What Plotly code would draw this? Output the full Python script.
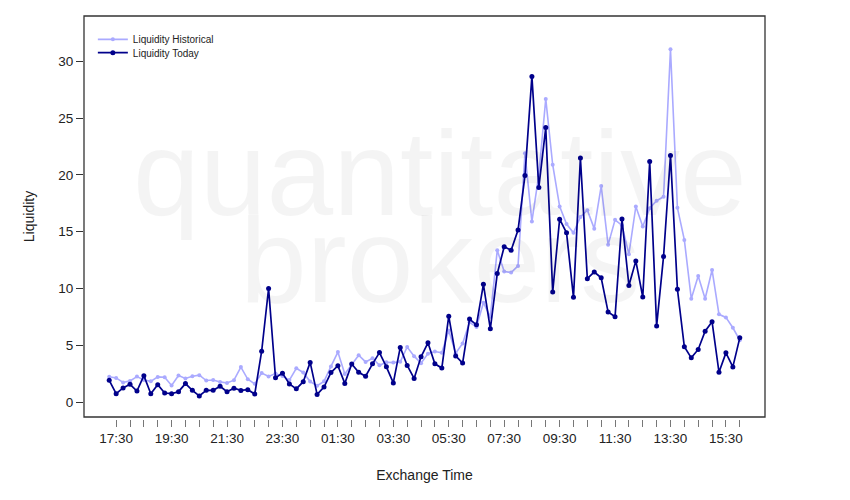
import pandas as pd
import plotly.graph_objects as go

# ---- data (15-minute buckets, 17:15 -> 16:00 next day) ----
start_time = "2013-06-10 17:15"
n_points = 92
times = pd.date_range(start_time, periods=n_points, freq="15min")

liquidity_historical = [
    2.22, 2.12, 1.72, 1.86, 2.24, 1.94, 1.82, 2.21, 2.18, 1.45,
    2.33, 2.08, 2.27, 2.36, 1.89, 1.94, 1.77, 1.68, 1.92, 3.08,
    2.00, 1.60, 2.55, 2.25, 2.50, 2.28, 1.93, 2.97, 2.60, 1.80,
    1.43, 1.82, 3.13, 4.40, 2.47, 3.35, 4.12, 3.53, 3.86, 3.24,
    3.50, 3.47, 3.54, 4.85, 4.04, 3.42, 4.26, 4.45, 4.34, 6.30,
    4.30, 5.16, 7.02, 6.60, 8.75, 7.50, 13.37, 11.49, 11.40, 11.99,
    21.90, 15.90, 20.00, 26.70, 20.90, 17.23, 15.67, 14.90, 16.30, 16.90,
    15.27, 19.02, 13.84, 16.05, 15.56, 13.02, 17.22, 15.46, 17.07, 17.73,
    18.08, 31.07, 17.10, 14.28, 9.10, 11.10, 9.10, 11.63, 7.72, 7.45,
    6.54, 5.45,
]

liquidity_today = [
    1.91, 0.73, 1.24, 1.56, 0.97, 2.32, 0.73, 1.53, 0.79, 0.73,
    0.91, 1.62, 1.03, 0.53, 1.03, 1.03, 1.38, 0.90, 1.21, 1.02,
    1.08, 0.70, 4.47, 10.00, 2.13, 2.54, 1.59, 1.16, 1.79, 3.49,
    0.67, 1.32, 2.59, 3.20, 1.64, 3.35, 2.62, 2.27, 3.36, 4.35,
    3.10, 1.68, 4.81, 3.22, 2.08, 3.98, 5.21, 3.36, 2.99, 7.56,
    4.06, 3.43, 7.30, 6.80, 10.37, 6.45, 11.31, 13.67, 13.37, 15.14,
    19.94, 28.68, 18.90, 24.17, 9.69, 16.10, 14.90, 9.22, 21.49, 10.86,
    11.45, 10.94, 7.92, 7.51, 16.11, 10.26, 12.43, 9.25, 21.19, 6.70,
    12.82, 21.72, 9.93, 4.86, 3.89, 4.63, 6.24, 7.07, 2.62, 4.33,
    3.09, 5.65,
]

tick_times = pd.date_range("2013-06-10 17:30", "2013-06-11 16:00", freq="30min")
tick_labels = [t.strftime("%H:%M") if i % 4 == 0 else "" for i, t in enumerate(tick_times)]
y_ticks = [0, 5, 10, 15, 20, 25, 30]

# ---- figure ----
span = times[-1] - times[0]
x_range = [times[0] - 0.04 * span, times[-1] + 0.04 * span]

font_family = "Liberation Sans, Arial, sans-serif"

fig = go.Figure()
fig.add_trace(go.Scatter(
    x=times, y=liquidity_historical, mode="lines+markers",
    name="Liquidity Historical", legend="legend",
    line=dict(color="#AAAAFF", width=1.6),
    marker=dict(color="#AAAAFF", size=4),
))
fig.add_trace(go.Scatter(
    x=times, y=liquidity_today, mode="lines+markers",
    name="Liquidity Today", legend="legend2",
    line=dict(color="#00008B", width=1.7),
    marker=dict(color="#00008B", size=5),
))

# plot box
fig.add_shape(type="rect", xref="x domain", yref="y domain",
              x0=0, x1=1, y0=0, y1=1,
              line=dict(color="#333333", width=1.3), layer="above")

# watermark
for txt, yy in [("quantitative", 0.61), ("brokers", 0.395)]:
    fig.add_annotation(text=txt, xref="paper", yref="paper",
                       x=0.523, y=yy, xanchor="center", yanchor="middle",
                       showarrow=False,
                       font=dict(family=font_family, size=120,
                                 color="rgba(0,0,0,0.045)"))

legend_style = dict(xanchor="left", yanchor="top",
                    bgcolor="rgba(255,255,255,0)", font=dict(size=10))

fig.update_layout(
    width=850, height=500,
    margin=dict(l=76, r=93, t=8, b=89),
    paper_bgcolor="white", plot_bgcolor="white",
    font=dict(family=font_family, color="#222222"),
    showlegend=True,
    legend=dict(x=0.013, y=0.978, **legend_style),
    legend2=dict(x=0.013, y=0.945, **legend_style),
    xaxis=dict(
        type="date", range=x_range,
        anchor="free", position=0,
        showline=False, showgrid=False, zeroline=False,
        tickmode="array", tickvals=tick_times, ticktext=tick_labels,
        ticks="outside", ticklen=7, tickcolor="#777777", tickwidth=1,
        tickfont=dict(size=13.5),
        title=dict(text="Exchange Time", font=dict(size=14), standoff=24),
    ),
    yaxis=dict(
        range=[-1.32, 34.0], domain=[0.005, 1],
        showline=False, showgrid=False, zeroline=False,
        tickmode="array", tickvals=y_ticks,
        ticks="outside", ticklen=7, tickcolor="#333333",
        tickfont=dict(size=13.5),
        title=dict(text="Liquidity", font=dict(size=14), standoff=20),
    ),
)

fig.write_html("out.html")
